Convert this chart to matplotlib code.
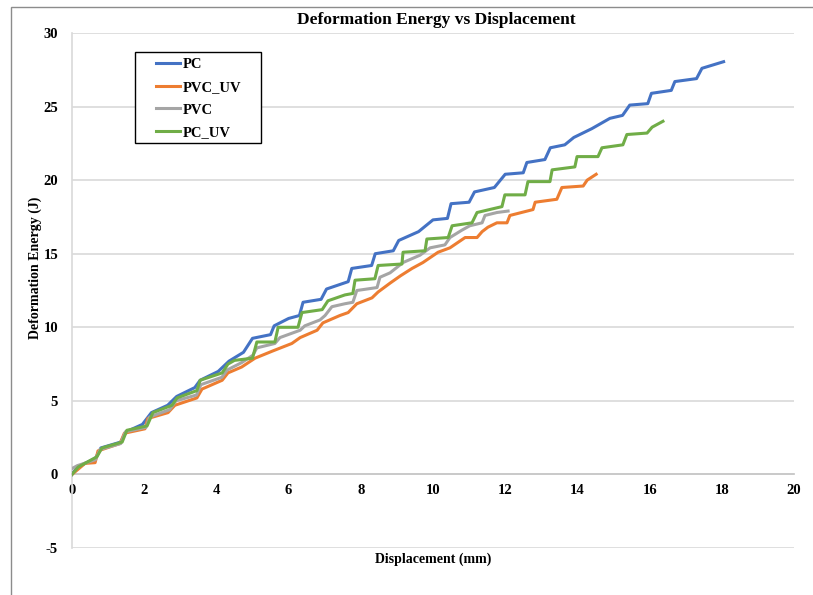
import matplotlib
matplotlib.use("Agg")
import matplotlib.pyplot as plt
from matplotlib.patches import Rectangle

# ---- data ----
pc_x = [0, 0.15, 0.65, 0.8, 1.35, 1.5, 1.95, 2.2, 2.65, 2.9, 3.4, 3.55, 4.05, 4.35, 4.75, 5.0, 5.5, 5.6, 6.0, 6.3,
        6.4, 6.9, 7.05, 7.65, 7.75, 8.3, 8.4, 8.9, 9.05, 9.6, 10.0, 10.4, 10.5, 11.0, 11.15, 11.7, 12.0, 12.5, 12.6, 13.1,
        13.25, 13.65, 13.9, 14.4, 14.9, 15.25, 15.45, 15.95, 16.05, 16.6, 16.7, 17.3, 17.45, 18.05]
pc_y = [0, 0.5, 1.1, 1.8, 2.2, 2.9, 3.4, 4.2, 4.7, 5.3, 5.9, 6.4, 7.0, 7.7, 8.3, 9.25, 9.5, 10.1, 10.6, 10.8,
        11.7, 11.9, 12.6, 13.1, 14.0, 14.2, 15.0, 15.2, 15.9, 16.5, 17.3, 17.4, 18.4, 18.5, 19.2, 19.5, 20.4, 20.5, 21.2, 21.4,
        22.2, 22.4, 22.9, 23.5, 24.2, 24.4, 25.1, 25.2, 25.9, 26.1, 26.7, 26.9, 27.6, 28.05]

pvcuv_x = [0, 0.36, 0.64, 0.72, 1.33, 1.45, 2.02, 2.1, 2.66, 2.85, 3.46, 3.6, 4.16, 4.32, 4.7, 5.07, 5.57, 6.09, 6.32, 6.79,
           6.95, 7.42, 7.65, 7.89, 8.31, 8.48, 8.81, 9.1, 9.42, 9.72, 10.14, 10.47, 10.89, 11.22, 11.36, 11.52, 11.77, 12.05,
           12.13, 12.77, 12.83, 13.43, 13.57, 14.16, 14.27, 14.52]
pvcuv_y = [0, 0.75, 0.8, 1.6, 2.1, 2.8, 3.1, 3.8, 4.2, 4.7, 5.2, 5.8, 6.4, 6.9, 7.3, 7.9, 8.4, 8.9, 9.3, 9.8,
           10.3, 10.8, 11.0, 11.6, 12.0, 12.4, 13.0, 13.5, 14.0, 14.4, 15.1, 15.4, 16.1, 16.1, 16.5, 16.8, 17.1, 17.1,
           17.6, 18.0, 18.5, 18.7, 19.5, 19.6, 20.0, 20.4]

pvc_x = [0, 0.15, 0.65, 0.78, 1.35, 1.48, 2.05, 2.15, 2.7, 2.88, 3.45, 3.57, 4.15, 4.3, 4.7, 5.01, 5.12, 5.62, 5.76, 6.32,
         6.45, 6.87, 7.01, 7.2, 7.56, 7.78, 7.89, 8.45, 8.53, 8.81, 9.17, 9.64, 9.92, 10.33, 10.47, 10.8, 11.02, 11.36,
         11.44, 11.77, 12.08]
pvc_y = [0.4, 0.6, 1.0, 1.7, 2.1, 2.9, 3.2, 3.9, 4.4, 5.0, 5.4, 6.1, 6.6, 7.1, 7.6, 8.1, 8.6, 8.9, 9.3, 9.8,
         10.1, 10.5, 10.8, 11.4, 11.6, 11.7, 12.5, 12.7, 13.4, 13.7, 14.4, 14.9, 15.4, 15.6, 16.1, 16.6, 16.9, 17.1,
         17.6, 17.8, 17.9]

pcuv_x = [0, 0.17, 0.69, 0.83, 1.39, 1.52, 2.08, 2.24, 2.77, 2.91, 3.46, 3.55, 4.16, 4.32, 4.5, 5.0, 5.12, 5.62, 5.71, 6.26,
          6.37, 6.93, 7.09, 7.56, 7.78, 7.84, 8.39, 8.48, 9.14, 9.17, 9.78, 9.83, 10.42, 10.53, 11.08, 11.22, 11.91, 11.99,
          12.55, 12.63, 13.24, 13.30, 13.93, 13.99, 14.57, 14.68, 15.26, 15.37, 15.93, 16.07, 16.37]
pcuv_y = [0, 0.5, 1.2, 1.8, 2.2, 3.0, 3.3, 4.2, 4.7, 5.2, 5.7, 6.4, 6.9, 7.5, 7.75, 7.9, 9.0, 9.0, 10.0, 10.0,
          11.0, 11.2, 11.8, 12.2, 12.3, 13.2, 13.3, 14.2, 14.3, 15.1, 15.2, 16.0, 16.1, 16.9, 17.1, 17.8, 18.2, 19.0,
          19.0, 19.9, 19.9, 20.7, 20.9, 21.6, 21.6, 22.2, 22.4, 23.1, 23.2, 23.6, 24.0]

x_ticks = [0, 2, 4, 6, 8, 10, 12, 14, 16, 18, 20]
y_ticks = [-5, 0, 5, 10, 15, 20, 25, 30]

title = "Deformation Energy vs Displacement"
xlabel = "Displacement (mm)"
ylabel = "Deformation Energy (J)"

# ---- figure ----
W, H = 813, 595
fig = plt.figure(figsize=(W / 100, H / 100), dpi=100)
serif = ["Liberation Serif", "DejaVu Serif"]

ax = fig.add_axes([72 / W, 1 - 548 / H, (794 - 72) / W, (548 - 33) / H])

series = [
    ("PC", pc_x, pc_y, "#4472C4"),
    ("PVC_UV", pvcuv_x, pvcuv_y, "#ED7D31"),
    ("PVC", pvc_x, pvc_y, "#A5A5A5"),
    ("PC_UV", pcuv_x, pcuv_y, "#70AD47"),
]
for name, xs, ys, c in series:
    ax.plot(xs, ys, color=c, lw=2.2, label=name, solid_joinstyle="round", zorder=3)

ax.set_xlim(0, 20)
ax.set_ylim(-5, 30)
ax.set_xticks(x_ticks)
ax.set_yticks(y_ticks)
ax.set_yticklabels([str(v) for v in y_ticks])
ax.yaxis.grid(True, color="#d9d9d9", lw=1.2, zorder=0)
ax.set_axisbelow(True)

for s in ["top", "right"]:
    ax.spines[s].set_visible(False)
ax.spines["left"].set_color("#d9d9d9")
ax.spines["left"].set_linewidth(1.2)
ax.spines["bottom"].set_position(("data", 0))
ax.spines["bottom"].set_color("#c8c8c8")
ax.spines["bottom"].set_linewidth(1.3)
ax.tick_params(axis="both", length=0)
ax.tick_params(axis="x", pad=7)
ax.tick_params(axis="y", pad=10)
for lab in ax.get_xticklabels() + ax.get_yticklabels():
    lab.set_fontfamily(serif)
    lab.set_fontweight("bold")
    lab.set_fontsize(10.5)

fig.text(436 / W, 1 - 20 / H, title, ha="center", va="center", fontfamily=serif,
         fontweight="bold", fontsize=12.5)
fig.text(433 / W, 1 - 559 / H, xlabel, ha="center", va="center", fontfamily=serif,
         fontweight="bold", fontsize=10)
fig.text(35 / W, 1 - 268 / H, ylabel, ha="center", va="center", rotation=90,
         fontfamily=serif, fontweight="bold", fontsize=10)

leg = ax.legend(loc="upper left", bbox_to_anchor=(156 / W, 1 - 58 / H),
                bbox_transform=fig.transFigure, frameon=False,
                handlelength=1.65, handletextpad=0.15,
                borderpad=0, labelspacing=0.65, borderaxespad=0,
                prop={"family": serif, "weight": "bold", "size": 10.5})
leg.set_zorder(5)
# legend frame (Excel style, wider padding)
ax.add_patch(Rectangle((135 / W, 1 - 143 / H), (261 - 135) / W, (143 - 52) / H,
                       transform=fig.transFigure, facecolor="white",
                       edgecolor="black", lw=1.0, zorder=4))

# outer border
fig.patches.append(Rectangle((11 / W, -0.01), 1.0, 1 - 7 / H + 0.01,
                             transform=fig.transFigure, fill=False,
                             edgecolor="#8c8c8c", lw=1.0))

fig.savefig("out.png", dpi=100)
